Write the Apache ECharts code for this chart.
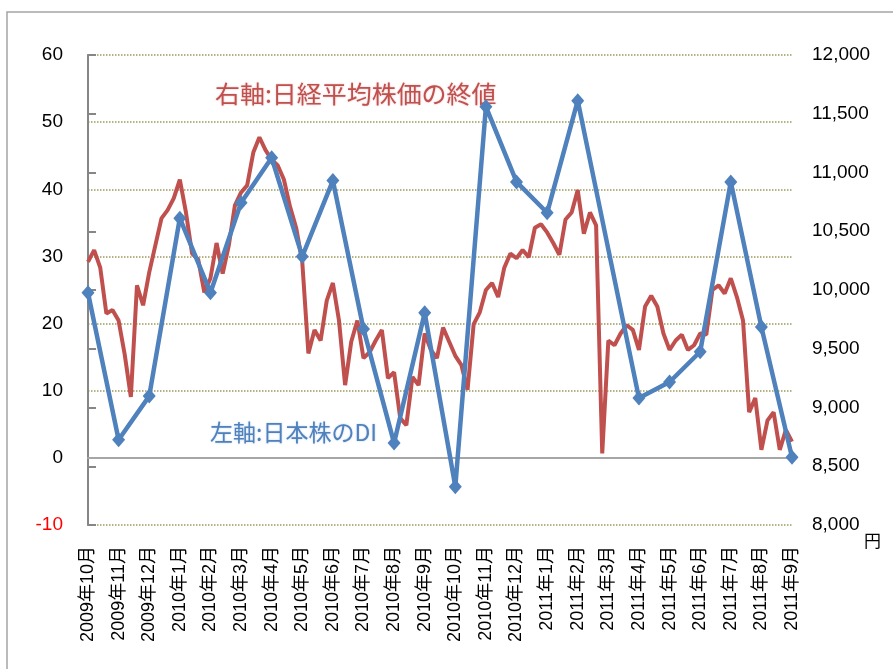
<!DOCTYPE html>
<html>
<head>
<meta charset="utf-8">
<script src="https://cdn.jsdelivr.net/npm/echarts@6/dist/echarts.min.js"></script>
<style>
html,body{margin:0;padding:0;background:#fff;}
#c{width:893px;height:669px;}
</style>
</head>
<body>
<div id="c"></div>
<script>
// Month categories (x axis)
var months = ['2009年10月','2009年11月','2009年12月','2010年1月','2010年2月','2010年3月','2010年4月','2010年5月','2010年6月','2010年7月','2010年8月','2010年9月','2010年10月','2010年11月','2010年12月','2011年1月','2011年2月','2011年3月','2011年4月','2011年5月','2011年6月','2011年7月','2011年8月','2011年9月'];
// Left axis: 日本株のDI (monthly)
var diValues = [24.6, 2.7, 9.2, 35.7, 24.6, 38.0, 44.7, 30.0, 41.3, 19.2, 2.2, 21.6, -4.3, 52.3, 41.1, 36.5, 53.2, null, 8.9, 11.3, 15.8, 41.1, 19.5, 0.1];
// Right axis: 日経平均株価の終値 (5 samples per month)
var samplesPerMonth = 5;
var nikkei = [10240,10340,10190,9800,9830,9740,9450,9090,10040,9870,
 10150,10380,10610,10680,10780,10940,10660,10310,10260,9980,
 10100,10400,10140,10380,10720,10830,10890,11170,11300,11190,
 11110,11060,10940,10710,10530,10240,9460,9660,9570,9910,
 10060,9740,9190,9560,9740,9420,9470,9570,9660,9250,
 9300,8910,8850,9260,9190,9630,9490,9420,9680,9560,
 9440,9360,9150,9710,9810,10000,10060,9940,10190,10310,
 10270,10340,10280,10530,10560,10490,10400,10300,10600,10660,
 10850,10480,10660,10550,8610,9570,9530,9630,9700,9660,
 9490,9860,9950,9860,9630,9490,9570,9620,9490,9530,
 9630,9620,10000,10040,9970,10100,9940,9740,8960,9080,
 8640,8890,8960,8640,8810,8710];
var leftTicks = {min: -10, max: 60, interval: 10};
var rightTicks = {min: 8000, max: 12000, interval: 500};

var diData = [];
diValues.forEach(function (v, i) { if (v !== null) diData.push([i, v]); });
var nikkeiData = nikkei.map(function (v, k) { return [k / samplesPerMonth, v]; });

var chart = echarts.init(document.getElementById('c'));
var numFont = 'Liberation Sans, Arial, sans-serif';
var cjkFont = '"Noto Sans CJK JP", "Noto Sans CJK SC", sans-serif';
chart.setOption({
  animation: false,
  backgroundColor: '#fff',
  grid: {left: 88, right: 101, top: 55, bottom: 144, containLabel: false},
  xAxis: [{
    type: 'value', min: 0, max: months.length - 1, interval: 1,
    axisLine: {show: false, onZero: false},
    axisTick: {show: false},
    splitLine: {show: false},
    axisLabel: {
      rotate: 90, margin: 21, fontSize: 18, color: '#000',
      fontFamily: 'Liberation Sans, "Noto Sans CJK JP", sans-serif',
      formatter: function (v) { return months[Math.round(v)] || ''; }
    }
  }, {
    type: 'value', min: 0, max: months.length - 1,
    axisLine: {show: true, onZero: true, onZeroAxisIndex: 0, lineStyle: {color: '#a6a6a6', width: 2}},
    axisTick: {show: false}, axisLabel: {show: false}, splitLine: {show: false}
  }],
  yAxis: [{
    type: 'value', position: 'left',
    min: leftTicks.min, max: leftTicks.max, interval: leftTicks.interval,
    axisLine: {show: true, lineStyle: {color: '#a6a6a6', width: 2}},
    axisTick: {show: false},
    splitLine: {show: true, lineStyle: {color: '#9c9a5c', type: [1.5, 1.5], width: 1.5}},
    axisLabel: {
      margin: 25, fontSize: 19, fontFamily: numFont,
      color: function (v) { return Number(v) < 0 ? '#ff0000' : '#000'; }
    }
  }, {
    type: 'value', position: 'right',
    min: rightTicks.min, max: rightTicks.max, interval: rightTicks.interval,
    axisLine: {show: true, lineStyle: {color: '#868686', width: 2}},
    axisTick: {show: true, inside: false, length: 8, lineStyle: {color: '#868686', width: 2}},
    splitLine: {show: false},
    axisLabel: {
      margin: 20, fontSize: 19, fontFamily: numFont, color: '#000',
      formatter: function (v) { return String(v).replace(/\B(?=(\d{3})+(?!\d))/g, ','); }
    }
  }],
  series: [{
    name: '日経平均株価の終値', type: 'line', xAxisIndex: 0, yAxisIndex: 1,
    data: nikkeiData, showSymbol: false, symbol: 'none',
    lineStyle: {color: '#c0504d', width: 4}, z: 2
  }, {
    name: '日本株のDI', type: 'line', xAxisIndex: 0, yAxisIndex: 0,
    data: diData, symbol: 'diamond', symbolSize: [13, 15],
    itemStyle: {color: '#4f81bd'},
    lineStyle: {color: '#4f81bd', width: 4.5}, z: 3
  }],
  graphic: [{
    type: 'rect', shape: {x: 7, y: 12, width: 1000, height: 1000},
    style: {fill: 'none', stroke: '#a5a5a5', lineWidth: 1.5}, silent: true, z: -1
  }, {
    type: 'text', left: 215, top: 82, scaleX: 1.04,
    style: {text: '右軸:日経平均株価の終値', font: '24px ' + cjkFont, fill: '#c0504d',
      textShadowColor: 'rgba(220,120,120,0.5)', textShadowBlur: 2}
  }, {
    type: 'text', left: 210, top: 421, z: 10,
    style: {text: '左軸:日本株のDI', font: '23px ' + cjkFont, fill: '#4f81bd',
      textShadowColor: 'rgba(120,160,220,0.5)', textShadowBlur: 2}
  }, {
    type: 'text', left: 864, top: 532,
    style: {text: '円', font: '17px ' + cjkFont, fill: '#000'}
  }]
});
</script>
</body>
</html>
